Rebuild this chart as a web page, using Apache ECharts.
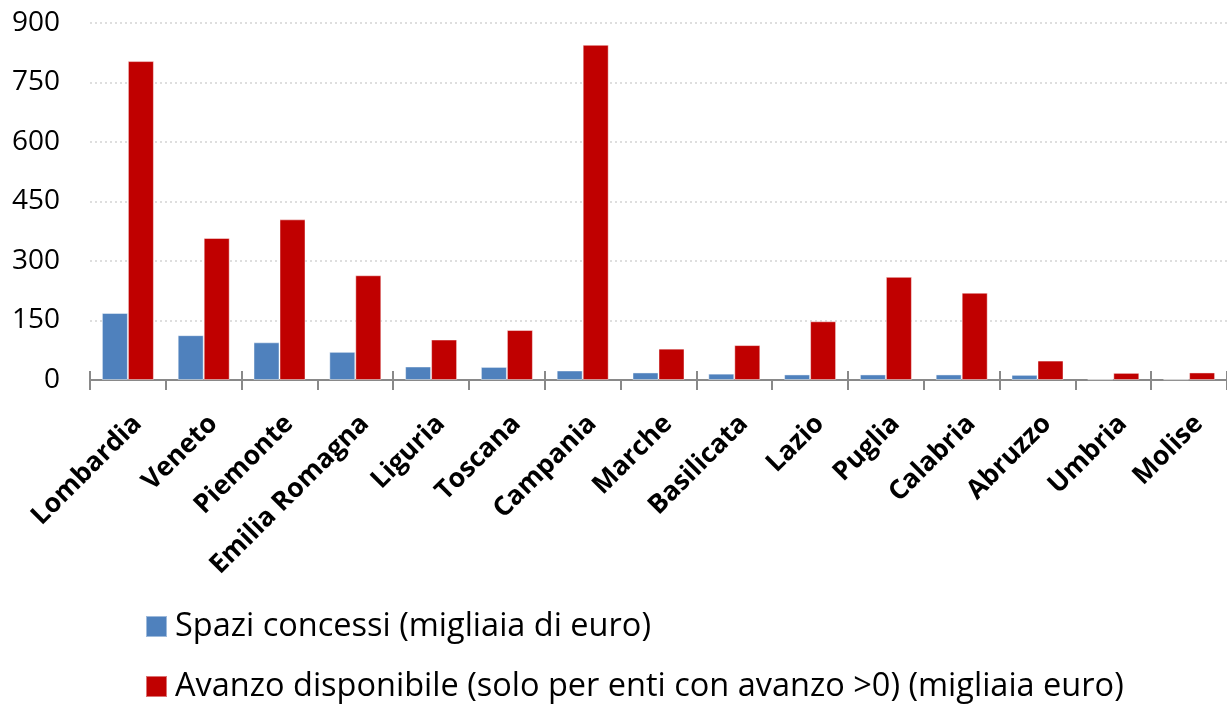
<!DOCTYPE html>
<html>
<head>
<meta charset="utf-8">
<script src="https://cdn.jsdelivr.net/npm/echarts@6/dist/echarts.min.js"></script>
<style>
html,body{margin:0;padding:0;background:#fff;}
#main{width:1227px;height:706px;}
</style>
</head>
<body>
<div id="main"></div>
<script>
const categories = ['Lombardia','Veneto','Piemonte','Emilia Romagna','Liguria','Toscana','Campania','Marche','Basilicata','Lazio','Puglia','Calabria','Abruzzo','Umbria','Molise'];
const spaziConcessi = [169, 113, 95, 71, 34, 33, 24, 19, 16, 14, 14, 14, 13, 2, 2];
const avanzoDisponibile = [804, 358, 405, 264, 102, 126, 845, 79, 88, 148, 260, 220, 49, 18, 19];
const seriesNames = ['Spazi concessi (migliaia di euro)', 'Avanzo disponibile (solo per enti con avanzo >0) (migliaia euro)'];
const yTicks = [0, 150, 300, 450, 600, 750, 900];

const chart = echarts.init(document.getElementById('main'));
const font = 'Open Sans';
const legendBase = {
  orient: 'vertical',
  left: 145,
  itemWidth: 21,
  itemHeight: 21,
  icon: 'rect',
  padding: 0,
  textStyle: { fontFamily: font, fontSize: 32.5, color: '#000', padding: [0, 0, 0, 3] }
};
chart.setOption({
  animation: false,
  backgroundColor: '#ffffff',
  grid: { left: 90, top: 23, width: 1146, height: 357, containLabel: false },
  legend: [
    Object.assign({}, legendBase, { top: 610, data: [seriesNames[0]] }),
    Object.assign({}, legendBase, { top: 670, data: [seriesNames[1]] })
  ],
  xAxis: [{
    type: 'category',
    data: categories,
    axisLine: { lineStyle: { color: '#898989', width: 2 } },
    axisTick: { show: true, length: 10, lineStyle: { color: '#898989', width: 2 } },
    axisLabel: {
      rotate: 45, margin: 30, interval: 0,
      align: 'right', verticalAlign: 'top',
      fontFamily: font, fontWeight: 'bold', fontSize: 26.5, color: '#000'
    }
  }, {
    type: 'category',
    data: categories,
    position: 'bottom',
    axisLine: { show: false },
    axisTick: { show: true, inside: true, length: 9, lineStyle: { color: '#898989', width: 2 } },
    axisLabel: { show: false }
  }],
  yAxis: {
    type: 'value',
    min: yTicks[0],
    max: yTicks[yTicks.length - 1],
    interval: 150,
    axisLine: { show: false },
    axisTick: { show: false },
    axisLabel: { fontFamily: font, fontSize: 28, color: '#000', margin: 30 },
    splitLine: { lineStyle: { color: '#d4d4d4', type: [2, 3], width: 1.5 } }
  },
  series: [{
    name: seriesNames[0],
    type: 'bar',
    data: spaziConcessi,
    barWidth: 26,
    barGap: '0%',
    itemStyle: { color: '#4F81BD', borderColor: 'rgba(255,255,255,0.45)', borderWidth: 1 }
  }, {
    name: seriesNames[1],
    type: 'bar',
    data: avanzoDisponibile,
    barWidth: 26,
    barGap: '0%',
    itemStyle: { color: '#C00000', borderColor: 'rgba(255,255,255,0.45)', borderWidth: 1 }
  }]
});
</script>
</body>
</html>
